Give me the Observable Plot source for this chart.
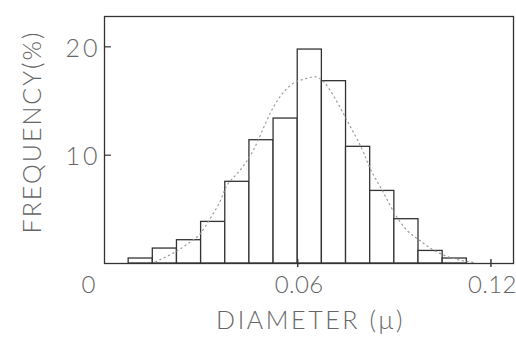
<!DOCTYPE html>
<html>
<head>
<meta charset="utf-8">
<script src="https://cdn.jsdelivr.net/npm/d3@7"></script>
<script src="https://cdn.jsdelivr.net/npm/@observablehq/plot@0.6"></script>
<style>
  html, body { margin: 0; padding: 0; background: #fff; }
  svg { display: block; }
</style>
</head>
<body>
<div id="chart"></div>
<script>
// Histogram bins (diameter, microns) and frequency (%)
const binStart = [0.0075, 0.015, 0.0225, 0.03, 0.0375, 0.045, 0.0525, 0.06, 0.0675, 0.075, 0.0825, 0.09, 0.0975, 0.105];
const binEnd   = [0.015, 0.0225, 0.03, 0.0375, 0.045, 0.0525, 0.06, 0.0675, 0.075, 0.0825, 0.09, 0.0975, 0.105, 0.1125];
const frequency = [0.46, 1.38, 2.15, 3.84, 7.54, 11.38, 13.38, 19.75, 16.83, 10.77, 6.7, 4.09, 1.16, 0.46];

// Dotted fitted curve
const curveX = [0.0158, 0.022, 0.0267, 0.0298, 0.0329, 0.036, 0.038, 0.0412, 0.0445, 0.0477, 0.0525, 0.058, 0.0629, 0.068, 0.0748, 0.0799, 0.0826, 0.0862, 0.0898, 0.0939, 0.0978, 0.1022, 0.1084, 0.1146];
const curveY = [0.15, 1.07, 2.0, 2.77, 4.2, 5.8, 7.2, 8.3, 9.6, 11.38, 14.46, 16.5, 17.1, 16.8, 13.5, 10.6, 8.7, 6.77, 4.77, 3.07, 2.15, 1.23, 0.46, 0.1];

// Tick labels
const xTicks = [0, 0.06, 0.12];
const xTickLabels = ["0", "0.06", "0.12"];
const yTicks = [10, 20];
const yTickLabels = ["10", "20"];
const xTitle = "DIAMETER (\u03bc)";
const yTitle = "FREQUENCY(%)";

const bins = binStart.map((s, i) => ({x1: s, x2: binEnd[i], y: frequency[i]}));
const curve = curveX.map((x, i) => ({x, y: curveY[i]}));
const xt = xTicks.map((v, i) => ({v, label: xTickLabels[i]}));
const yt = yTicks.map((v, i) => ({v, label: yTickLabels[i]}));

const ink = "#333333";
const textInk = "#666666";
const font = "Lato, 'Open Sans', 'DejaVu Sans', sans-serif";

const chart = Plot.plot({
  width: 516,
  height: 338,
  marginLeft: 104,
  marginRight: 3,
  marginTop: 16,
  marginBottom: 75,
  style: {fontFamily: font, background: "#fff"},
  x: {domain: [0, 0.127], axis: null},
  y: {domain: [0, 22.8], axis: null},
  marks: [
    Plot.rectY(bins, {x1: "x1", x2: "x2", y: "y", fill: "white", stroke: ink, strokeWidth: 1.3}),
    Plot.line(curve, {x: "x", y: "y", curve: "natural", stroke: "#999999", strokeWidth: 1.2, strokeDasharray: "1.2,3.6"}),
    Plot.frame({stroke: ink, strokeWidth: 1.3}),
    Plot.ruleY(yt, {y: "v", x1: 0, x2: 0, insetRight: -7, stroke: ink, strokeWidth: 1.2}),
    Plot.ruleX(xt.filter(d => d.v > 0), {x: "v", y1: 0, y2: 0, insetTop: -4, insetBottom: -4, stroke: ink, strokeWidth: 1.4}),
    Plot.text(yt, {x: 0, y: "v", text: "label", textAnchor: "end", dx: -4, dy: 2, fontSize: 25, fontWeight: 300, fill: textInk}),
    Plot.text(xt, {x: "v", y: 0, text: "label", textAnchor: "start", dx: -23, dy: 21.5, fontSize: 24, fontWeight: 300, fill: textInk}),
    Plot.text([yTitle], {frameAnchor: "left", textAnchor: "middle", text: d => d, rotate: -90, dx: -72, dy: -8, fontSize: 25, fontWeight: 300, fill: textInk}),
    Plot.text([xTitle], {frameAnchor: "bottom", textAnchor: "middle", text: d => d, dy: 65, dx: 1.5, fontSize: 25, fontWeight: 300, fill: textInk})
  ]
});
document.getElementById("chart").appendChild(chart);

// letter spacing to mimic the wide lettering of the original
const svg = d3.select(chart);
const spacing = new Map([[xTitle, "2.6px"], [yTitle, "2px"], ["10", "3px"], ["20", "3px"], ["0.06", "0.4px"], ["0.12", "0.4px"]]);
svg.selectAll("text").each(function() {
  const t = this.textContent;
  if (spacing.has(t)) d3.select(this).style("letter-spacing", spacing.get(t));
});
</script>
</body>
</html>
